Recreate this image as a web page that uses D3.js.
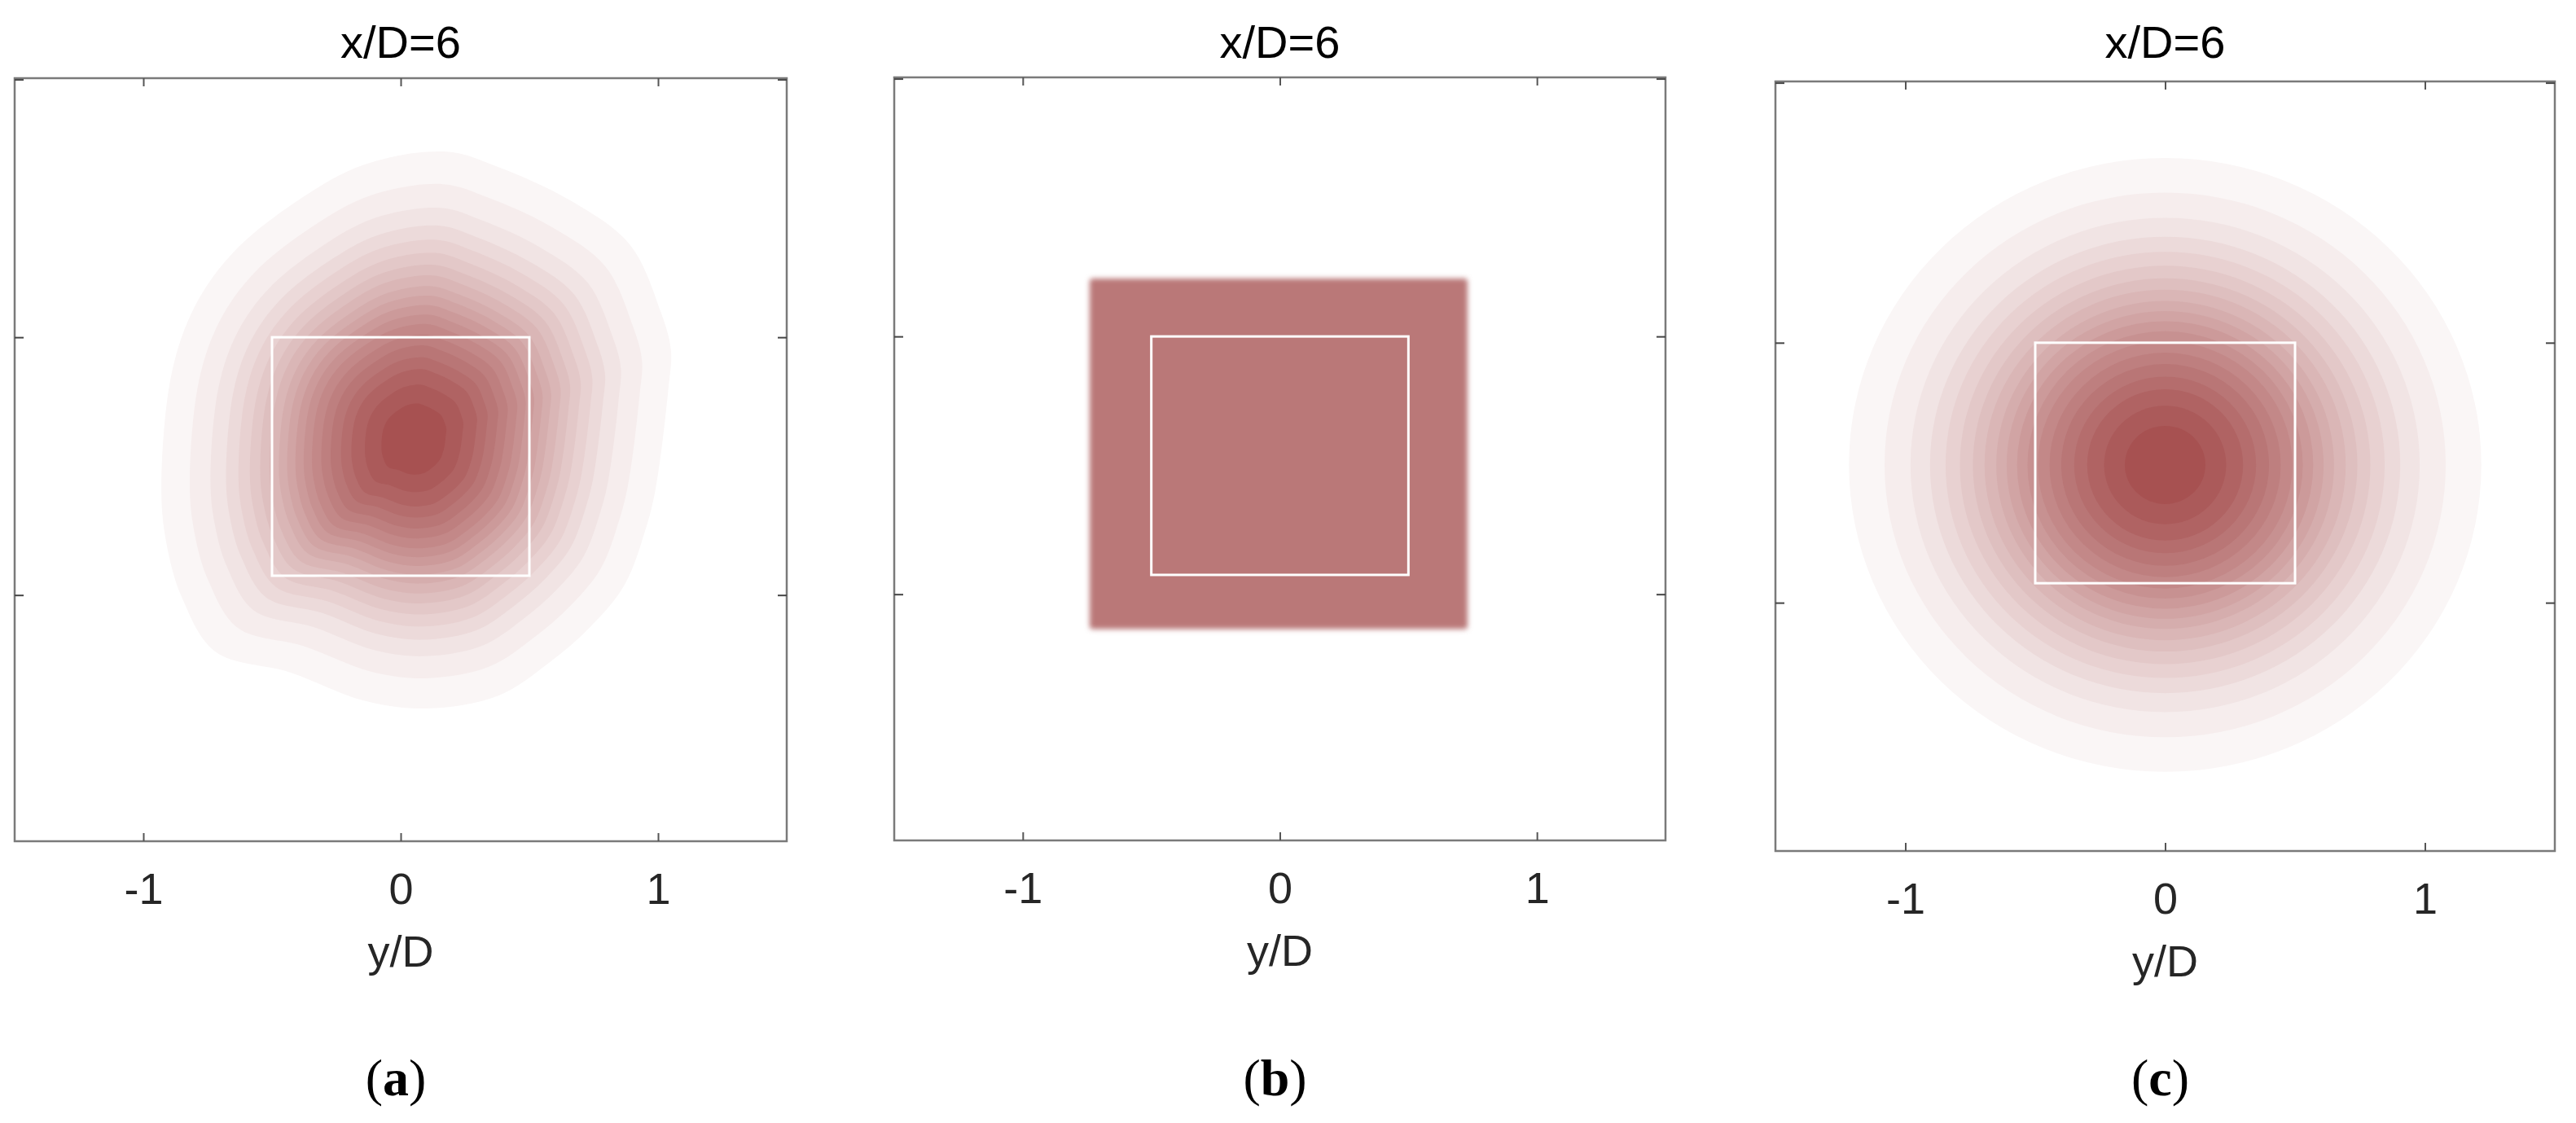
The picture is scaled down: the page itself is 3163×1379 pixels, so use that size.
<!DOCTYPE html>
<html>
<head>
<meta charset="utf-8">
<script src="https://cdn.jsdelivr.net/npm/d3@7"></script>
<style>
  body { margin: 0; background: #fff; }
  text { font-family: "Liberation Sans", Arial, sans-serif; }
</style>
</head>
<body>
<svg id="chart" width="3163" height="1379"></svg>
<script>

// axis ticks and texts
var xTicks = [-1, 0, 1];
var xTickLabels = ["-1", "0", "1"];
var yTicks = [-0.5, 0.5, 1.5];
var panelTitles = ["x/D=6", "x/D=6", "x/D=6"];
var panelLetters = ["a", "b", "c"];
var xLabel = "y/D";

// normalised contour levels, and the radius (in D) each level reaches in (c)
var levels = [0.05, 0.10, 0.15, 0.20, 0.25, 0.30, 0.35, 0.40, 0.45, 0.50,
              0.55, 0.60, 0.65, 0.70, 0.75, 0.80, 0.85, 0.90, 0.95];
var ringRadiusC = [1.217, 1.08, 0.98, 0.905, 0.845, 0.79, 0.74, 0.695, 0.65, 0.61,
                   0.57, 0.53, 0.49, 0.445, 0.40, 0.35, 0.30, 0.235, 0.155];
var centreC = [0, 0.03];
var aspectC = 0.97;

var outlineA = [
  [0.18, 1.22], [0.38, 1.16], [0.66, 1.03], [0.89, 0.86], [1.01, 0.60],
  [1.05, 0.45], [1.04, 0.30], [0.99, -0.09], [0.95, -0.25], [0.87, -0.46],
  [0.74, -0.62], [0.58, -0.76], [0.38, -0.89], [0.10, -0.94], [-0.14, -0.91],
  [-0.43, -0.80], [-0.72, -0.72], [-0.85, -0.51], [-0.91, -0.30], [-0.93, -0.09],
  [-0.89, 0.36], [-0.80, 0.62], [-0.65, 0.83], [-0.40, 1.03], [-0.14, 1.17]
];
var peakA = [0.05, 0.10];

// (b): uniform (top hat) region and its level
var hatX = [-0.74, 0.73];
var hatY = [-0.635, 0.725];
var hatLevel = 0.74;

// white probe window drawn in every panel
var probeX = [-0.5, 0.5];
var probeY = [-0.425, 0.5];

var xDomain = [-1.5, 1.5];
var yDomain = [-1.455, 1.505];

var panels = [
  { left: 18,   right: 966,  top: 96,  bottom: 1033 },
  { left: 1098, right: 2045, top: 95,  bottom: 1032 },
  { left: 2180, right: 3137, top: 100, bottom: 1045 }
];

var colour = d3.scaleLinear().domain([0, 1]).range(["#ffffff", "#a24848"]);

var svg = d3.select("#chart");
svg.append("rect").attr("width", 3163).attr("height", 1379).attr("fill", "#fff");

var defs = svg.append("defs");
defs.append("filter")
  .attr("id", "soft")
  .attr("x", "-10%").attr("y", "-10%").attr("width", "120%").attr("height", "120%")
  .append("feGaussianBlur")
  .attr("stdDeviation", 3);

panels.forEach(function (p, i) {
  var x = d3.scaleLinear().domain(xDomain).range([p.left, p.right]);
  var y = d3.scaleLinear().domain(yDomain).range([p.bottom, p.top]);

  defs.append("clipPath").attr("id", "clip" + i)
    .append("rect")
    .attr("x", p.left).attr("y", p.top)
    .attr("width", p.right - p.left).attr("height", p.bottom - p.top);

  var g = svg.append("g").attr("clip-path", "url(#clip" + i + ")");

  if (i === 0) {
    // rings: the measured outline shrunk towards the peak
    var line = d3.line()
      .x(function (d) { return x(d[0]); })
      .y(function (d) { return y(d[1]); })
      .curve(d3.curveCatmullRomClosed.alpha(0.5));
    levels.forEach(function (lv, k) {
      var f = ringRadiusC[k] / ringRadiusC[0];
      var pts = outlineA.map(function (d) {
        return [peakA[0] + (d[0] - peakA[0]) * f, peakA[1] + (d[1] - peakA[1]) * f];
      });
      g.append("path")
        .attr("d", line(pts))
        .attr("fill", colour(lv));
    });
  } else if (i === 1) {
    g.append("rect")
      .attr("x", x(hatX[0])).attr("y", y(hatY[1]))
      .attr("width", x(hatX[1]) - x(hatX[0]))
      .attr("height", y(hatY[0]) - y(hatY[1]))
      .attr("rx", 4)
      .attr("fill", colour(hatLevel))
      .attr("filter", "url(#soft)");
  } else {
    levels.forEach(function (lv, k) {
      var r = ringRadiusC[k];
      g.append("ellipse")
        .attr("cx", x(centreC[0])).attr("cy", y(centreC[1]))
        .attr("rx", x(r) - x(0))
        .attr("ry", (y(0) - y(r)) * aspectC)
        .attr("fill", colour(lv));
    });
  }

  // probe window
  svg.append("rect")
    .attr("x", x(probeX[0])).attr("y", y(probeY[1]))
    .attr("width", x(probeX[1]) - x(probeX[0]))
    .attr("height", y(probeY[0]) - y(probeY[1]))
    .attr("fill", "none")
    .attr("stroke", "#fff")
    .attr("stroke-width", 3);

  // box
  svg.append("rect")
    .attr("x", p.left).attr("y", p.top)
    .attr("width", p.right - p.left).attr("height", p.bottom - p.top)
    .attr("fill", "none")
    .attr("stroke", "#7a7a7a")
    .attr("stroke-width", 2.5);

  // ticks (inward) and labels
  var fontPx = 54;
  var bottomAxis = svg.append("g")
    .attr("transform", "translate(0," + p.bottom + ")")
    .call(d3.axisBottom(x).tickValues(xTicks)
      .tickFormat(function (d, j) { return xTickLabels[j]; })
      .tickSizeInner(-10).tickSizeOuter(0).tickPadding(39));
  bottomAxis.select(".domain").remove();
  bottomAxis.selectAll("line").attr("stroke", "#555").attr("stroke-width", 2);
  bottomAxis.selectAll("text")
    .attr("font-size", fontPx)
    .attr("font-family", "Liberation Sans, Arial, sans-serif")
    .attr("fill", "#262626");

  var topAxis = svg.append("g")
    .attr("transform", "translate(0," + p.top + ")")
    .call(d3.axisTop(x).tickValues(xTicks).tickFormat("")
      .tickSizeInner(-10).tickSizeOuter(0));
  topAxis.select(".domain").remove();
  topAxis.selectAll("line").attr("stroke", "#555").attr("stroke-width", 2);

  var leftAxis = svg.append("g")
    .attr("transform", "translate(" + p.left + ",0)")
    .call(d3.axisLeft(y).tickValues(yTicks).tickFormat("")
      .tickSizeInner(-11).tickSizeOuter(0));
  leftAxis.select(".domain").remove();
  leftAxis.selectAll("line").attr("stroke", "#444").attr("stroke-width", 2);

  var rightAxis = svg.append("g")
    .attr("transform", "translate(" + p.right + ",0)")
    .call(d3.axisRight(y).tickValues(yTicks).tickFormat("")
      .tickSizeInner(-11).tickSizeOuter(0));
  rightAxis.select(".domain").remove();
  rightAxis.selectAll("line").attr("stroke", "#444").attr("stroke-width", 2);

  var cx = (p.left + p.right) / 2;

  svg.append("text")
    .attr("x", cx).attr("y", 71)
    .attr("text-anchor", "middle")
    .attr("font-size", 56)
    .attr("fill", "#000")
    .text(panelTitles[i]);

  svg.append("text")
    .attr("x", cx).attr("y", p.bottom + 154)
    .attr("text-anchor", "middle")
    .attr("font-size", fontPx)
    .attr("fill", "#262626")
    .text(xLabel);

  var lab = svg.append("text")
    .attr("x", cx - 6).attr("y", 1345)
    .attr("text-anchor", "middle")
    .attr("font-size", 64)
    .attr("fill", "#000")
    .style("font-family", "'Liberation Serif', 'Times New Roman', serif");
  lab.append("tspan").text("(");
  lab.append("tspan").attr("font-weight", "bold").text(panelLetters[i]);
  lab.append("tspan").text(")");
});

</script>
</body>
</html>
